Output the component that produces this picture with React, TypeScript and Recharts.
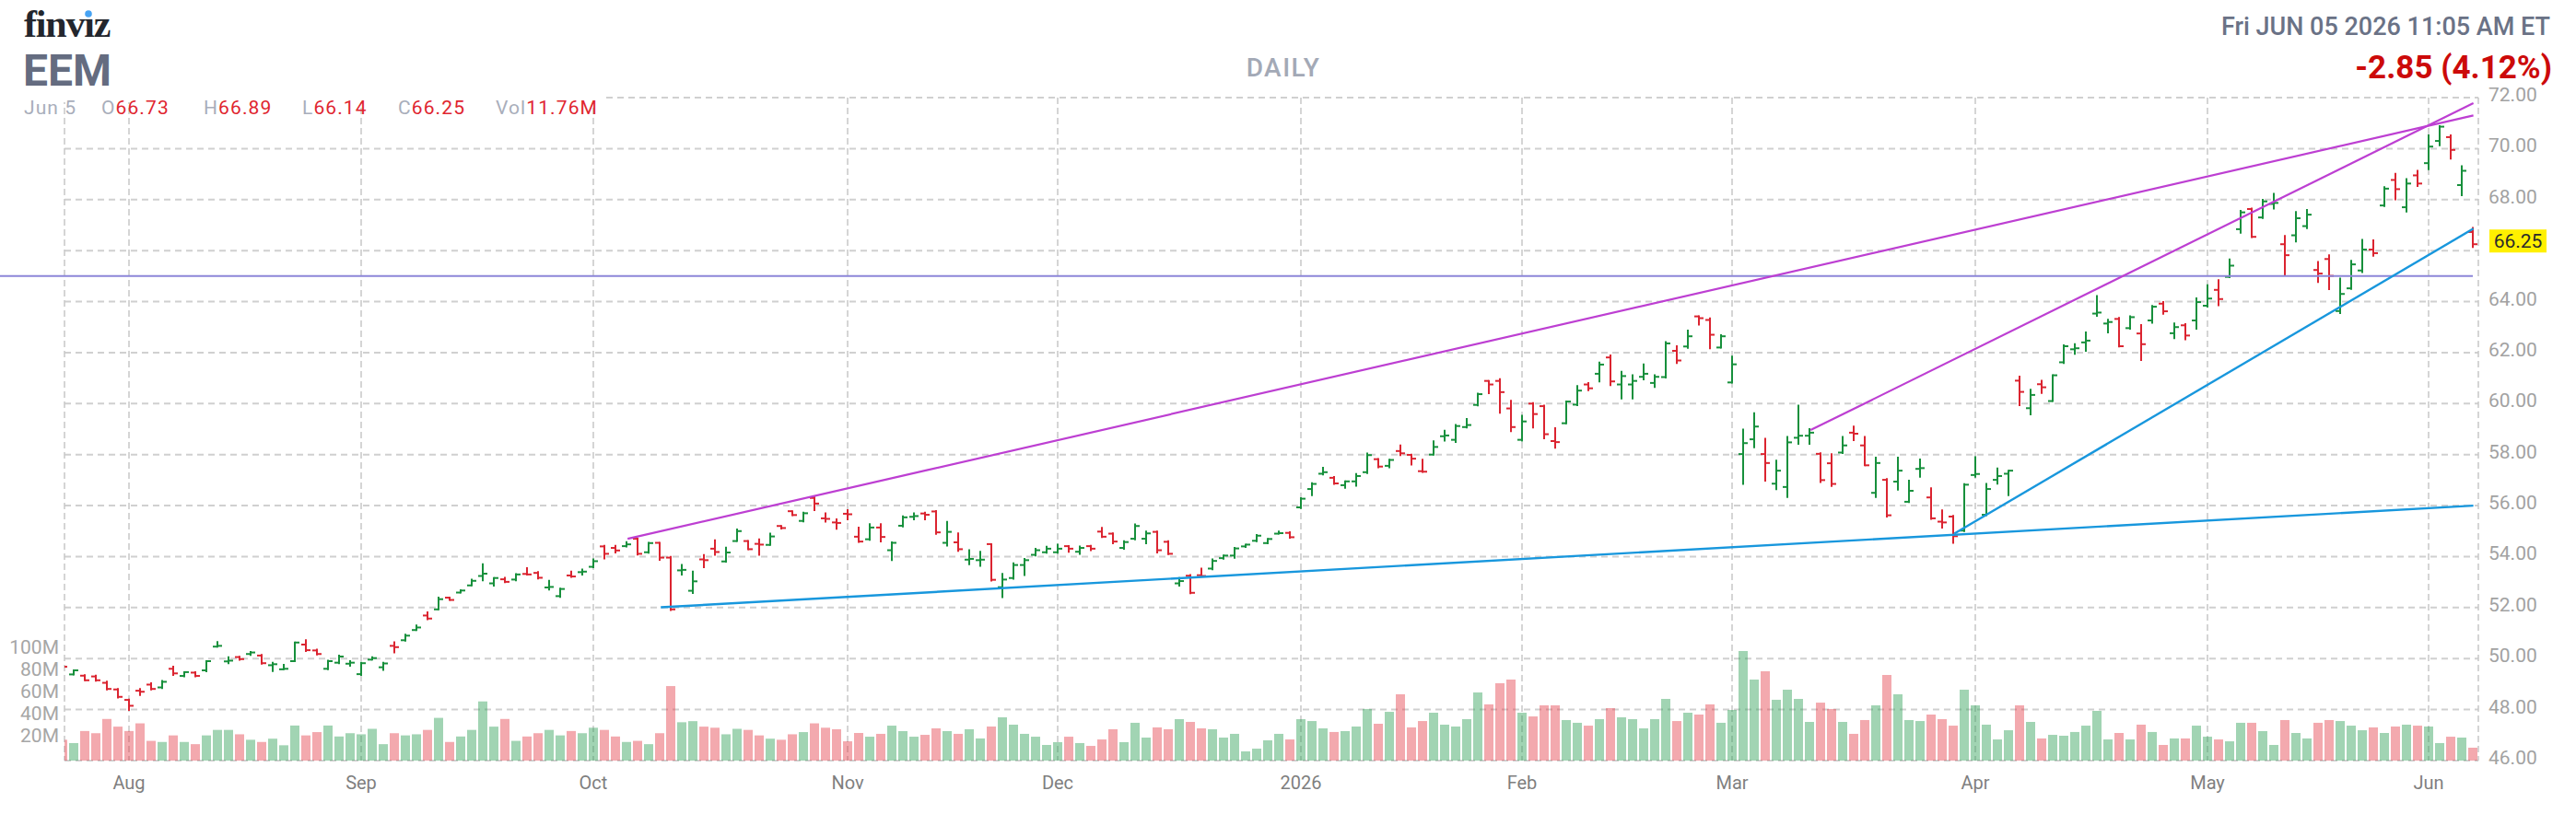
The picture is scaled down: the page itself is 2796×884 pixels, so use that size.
import React from "react";
import { ComposedChart, Bar, XAxis, YAxis, CartesianGrid, ReferenceLine, Cell } from "recharts";

// ---------- data ----------
const opens = [
  49.75, 49.38, 49.33, 49.30, 49.05, 48.79, 48.38, 48.74, 48.98, 48.87,
  49.60, 49.32, 49.45, 49.54, 50.47, 49.89, 50.06, 50.18, 50.12, 49.74,
  49.58, 49.90, 50.55, 50.32, 49.60, 49.84, 49.80, 49.39, 49.96, 49.66,
  50.50, 50.72, 51.12, 51.69, 51.93, 52.39, 52.59, 52.87, 53.24, 52.95,
  53.11, 53.10, 53.32, 53.36, 52.79, 52.45, 53.26, 53.39, 53.60, 54.40,
  54.34, 54.41, 54.70, 54.17, 54.54, 53.96, 53.46, 52.66, 53.89, 54.31,
  53.81, 54.61, 54.61, 54.50, 54.46, 55.20, 55.78, 55.40, 56.30, 55.50,
  55.34, 55.68, 54.78, 54.68, 55.14, 54.25, 55.21, 55.56, 55.69, 55.77,
  54.54, 54.56, 53.88, 53.86, 54.49, 52.80, 53.16, 53.67, 54.07, 54.17,
  54.17, 54.41, 54.19, 54.41, 54.98, 54.90, 54.34, 54.70, 54.70, 54.97,
  54.58, 52.95, 53.25, 53.27, 53.53, 53.94, 54.04, 54.40, 54.62, 54.53,
  54.90, 54.93, 55.93, 56.65, 57.25, 57.09, 56.80, 56.95, 57.31, 57.82,
  57.56, 58.14, 57.99, 57.35, 58.00, 58.72, 58.58, 59.08, 59.95, 60.89,
  60.89, 59.81, 58.58, 60.00, 59.90, 58.53, 59.23, 59.96, 60.75, 61.17,
  61.81, 60.75, 60.75, 61.05, 60.81, 61.04, 62.07, 62.24, 63.42, 63.28,
  62.20, 60.83, 58.02, 58.60, 58.02, 56.86, 56.73, 58.66, 58.74, 58.03,
  57.66, 58.08, 58.86, 58.36, 56.50, 57.01, 56.94, 56.15, 57.44, 56.32,
  55.37, 55.57, 55.02, 57.20, 55.64, 57.01, 57.25, 60.90, 59.82, 60.76,
  60.10, 61.62, 62.13, 62.40, 63.53, 63.14, 63.32, 62.96, 62.75, 63.26,
  63.92, 62.76, 63.07, 63.26, 63.84, 64.46, 64.97, 66.84, 67.63, 67.30,
  67.83, 66.25, 66.60, 66.96, 65.24, 65.67, 63.63, 64.52, 65.22, 66.04,
  67.77, 68.77, 67.70, 68.95, 69.43, 70.30, 70.45, 68.57, 66.73,
];
const highs = [
  49.80, 49.54, 49.35, 49.33, 49.10, 48.81, 48.39, 48.81, 49.03, 49.12,
  49.68, 49.47, 49.47, 49.90, 50.65, 50.05, 50.07, 50.26, 50.14, 49.84,
  49.76, 50.63, 50.72, 50.35, 49.92, 50.12, 49.90, 49.84, 50.05, 49.84,
  50.64, 50.94, 51.30, 51.81, 52.39, 52.39, 52.68, 53.10, 53.70, 53.16,
  53.17, 53.31, 53.55, 53.39, 53.05, 52.74, 53.41, 53.49, 53.89, 54.42,
  54.42, 54.57, 54.70, 54.54, 54.54, 53.99, 53.67, 53.41, 54.06, 54.64,
  54.35, 55.06, 54.61, 54.68, 54.90, 55.20, 55.78, 55.72, 56.33, 55.70,
  55.46, 55.82, 55.14, 55.27, 55.27, 54.56, 55.58, 55.70, 55.72, 55.79,
  55.36, 54.91, 54.25, 54.19, 54.49, 53.32, 53.74, 53.91, 54.31, 54.39,
  54.47, 54.41, 54.40, 54.42, 55.13, 54.91, 54.60, 55.26, 54.98, 54.98,
  54.60, 53.16, 53.28, 53.53, 53.89, 54.04, 54.34, 54.47, 54.85, 54.69,
  54.98, 54.96, 56.29, 56.88, 57.48, 57.12, 56.95, 57.24, 58.04, 57.83,
  57.80, 58.36, 58.00, 57.80, 58.52, 58.94, 59.16, 59.40, 60.39, 60.89,
  60.96, 60.11, 59.52, 60.02, 59.92, 59.04, 60.08, 60.69, 60.81, 61.61,
  61.89, 61.25, 61.11, 61.54, 61.11, 62.41, 62.25, 62.86, 63.42, 63.34,
  62.68, 61.84, 58.98, 59.62, 58.62, 57.76, 58.69, 59.92, 59.00, 58.05,
  58.02, 58.69, 59.10, 58.69, 57.88, 57.04, 57.88, 56.98, 57.81, 56.68,
  55.81, 55.60, 56.84, 57.90, 56.85, 57.46, 57.37, 61.06, 60.54, 60.90,
  61.11, 62.29, 62.33, 62.79, 64.22, 63.29, 63.36, 63.42, 63.08, 63.83,
  63.98, 63.14, 63.12, 64.13, 64.64, 64.84, 65.65, 67.56, 67.65, 67.99,
  68.23, 66.57, 67.51, 67.59, 65.55, 65.82, 64.90, 65.60, 66.42, 66.40,
  68.49, 69.01, 68.80, 69.13, 70.52, 70.88, 70.52, 69.31, 66.89,
];
const lows = [
  49.60, 49.38, 49.15, 49.13, 48.79, 48.47, 47.99, 48.57, 48.79, 48.84,
  49.36, 49.30, 49.30, 49.50, 50.47, 49.82, 49.95, 50.14, 49.80, 49.51,
  49.58, 49.90, 50.30, 50.16, 49.58, 49.82, 49.72, 49.36, 49.96, 49.56,
  50.24, 50.70, 51.12, 51.54, 51.93, 52.30, 52.59, 52.87, 53.07, 52.86,
  53.00, 53.07, 53.29, 53.14, 52.71, 52.42, 53.20, 53.29, 53.58, 53.93,
  54.16, 54.40, 54.08, 54.15, 53.87, 51.90, 53.29, 52.57, 53.58, 54.07,
  53.80, 54.61, 54.29, 54.07, 54.46, 55.10, 55.62, 55.38, 55.82, 55.37,
  55.09, 55.46, 54.58, 54.66, 54.59, 53.86, 55.18, 55.46, 55.46, 54.89,
  54.43, 54.22, 53.70, 53.64, 53.06, 52.41, 53.13, 53.28, 54.04, 54.15,
  54.15, 54.19, 54.11, 54.25, 54.77, 54.52, 54.31, 54.68, 54.52, 54.16,
  54.10, 52.86, 52.56, 53.22, 53.50, 53.92, 53.95, 54.38, 54.60, 54.52,
  54.90, 54.74, 55.90, 56.41, 57.22, 56.85, 56.70, 56.78, 57.28, 57.50,
  57.50, 57.98, 57.61, 57.32, 58.00, 58.55, 58.49, 59.06, 59.93, 60.41,
  59.64, 58.92, 58.55, 59.06, 58.64, 58.27, 59.23, 59.94, 60.53, 60.87,
  60.72, 60.20, 60.20, 60.95, 60.65, 61.02, 61.59, 62.19, 63.10, 62.17,
  62.20, 60.82, 56.85, 58.29, 56.98, 56.64, 56.34, 58.42, 58.42, 56.92,
  56.77, 58.06, 58.57, 57.58, 56.34, 55.57, 56.63, 56.14, 57.13, 55.48,
  55.14, 54.54, 55.00, 57.13, 55.62, 56.86, 56.41, 59.94, 59.58, 60.42,
  60.10, 61.59, 61.95, 62.07, 63.44, 62.79, 62.24, 62.94, 61.71, 63.17,
  63.52, 62.57, 62.52, 62.94, 63.80, 63.86, 64.96, 66.70, 66.53, 67.28,
  67.65, 65.04, 66.36, 66.88, 64.77, 64.49, 63.55, 64.50, 65.16, 65.80,
  67.75, 68.01, 67.53, 68.53, 69.19, 70.13, 69.61, 68.17, 66.14,
];
const closes = [
  49.68, 49.54, 49.15, 49.15, 48.81, 48.50, 48.15, 48.70, 48.81, 49.09,
  49.42, 49.47, 49.32, 49.90, 50.50, 49.92, 49.98, 50.24, 49.82, 49.78,
  49.60, 50.63, 50.33, 50.18, 49.90, 50.08, 49.84, 49.82, 50.02, 49.81,
  50.45, 50.90, 51.22, 51.57, 52.33, 52.30, 52.67, 53.05, 53.33, 53.16,
  53.01, 53.30, 53.30, 53.17, 52.81, 52.73, 53.22, 53.41, 53.82, 54.11,
  54.24, 54.48, 54.11, 54.53, 53.96, 51.93, 53.48, 53.03, 53.86, 54.18,
  54.16, 55.00, 54.29, 54.47, 54.79, 55.12, 55.63, 55.70, 56.08, 55.48,
  55.32, 55.66, 54.59, 55.14, 54.77, 54.54, 55.54, 55.59, 55.64, 54.95,
  54.97, 54.29, 53.91, 53.88, 53.09, 53.10, 53.67, 53.86, 54.25, 54.31,
  54.31, 54.31, 54.34, 54.31, 54.78, 54.59, 54.57, 55.20, 54.91, 54.25,
  54.11, 53.04, 52.58, 53.24, 53.83, 54.04, 54.32, 54.47, 54.82, 54.69,
  54.92, 54.76, 56.27, 56.85, 57.31, 56.87, 56.95, 57.16, 57.98, 57.53,
  57.79, 58.05, 57.84, 57.33, 58.30, 58.75, 59.12, 59.16, 60.37, 60.75,
  60.45, 59.08, 59.30, 59.59, 58.80, 58.49, 60.08, 60.51, 60.60, 61.53,
  60.87, 61.08, 60.89, 61.17, 61.05, 62.36, 61.69, 62.64, 63.35, 62.70,
  62.64, 61.54, 58.45, 59.10, 57.67, 57.37, 58.48, 58.74, 58.86, 57.00,
  56.85, 58.36, 58.82, 57.58, 57.67, 55.62, 57.37, 56.58, 57.47, 55.50,
  55.34, 54.80, 56.82, 57.24, 56.65, 57.16, 57.37, 60.46, 60.34, 60.64,
  61.11, 62.25, 62.17, 62.47, 63.57, 63.20, 62.25, 63.39, 62.33, 63.80,
  63.62, 63.00, 62.67, 63.98, 64.12, 64.10, 65.41, 67.50, 66.54, 67.93,
  67.87, 65.82, 67.27, 67.41, 65.10, 65.01, 64.30, 65.46, 66.04, 65.90,
  68.43, 68.41, 68.63, 68.63, 70.08, 70.86, 69.95, 69.13, 66.25,
];
// volume, millions of shares
const volumes = [
  19, 16, 27, 25, 38, 31, 27, 34, 18, 17,
  23, 17, 15, 23, 28, 28, 24, 19, 17, 20,
  14, 32, 23, 26, 32, 22, 25, 24, 29, 15,
  25, 23, 24, 28, 39, 17, 22, 28, 54, 31,
  38, 18, 22, 25, 28, 23, 27, 25, 30, 28,
  22, 17, 18, 15, 25, 68, 35, 36, 31, 30,
  24, 29, 28, 23, 20, 19, 24, 26, 34, 30,
  28.6, 17.6, 25.2, 21.8, 24.4, 31.9, 26.9, 21.8, 23.5, 29.4,
  26.9, 24.4, 28.6, 20.2, 31.1, 39.5, 32.8, 24.4, 21.8, 14.3,
  16.8, 21.8, 16.0, 13.4, 19.3, 28.6, 16.8, 34.5, 21.0, 30.3,
  28.6, 37.8, 35.3, 29.4, 28.6, 21.0, 24.4, 8.4, 10.9, 18.5,
  24.4, 19.3, 37.8, 36.1, 29.4, 26.1, 26.9, 31.1, 47.1, 33.6,
  44.5, 60.5, 30.3, 36.1, 43.7, 32.8, 31.1, 37.8, 62.2, 51.3,
  70.6, 73.9, 43.7, 40.3, 50.4, 50.4, 37.0, 34.5, 31.9, 37.8,
  47.9, 39.5, 37.8, 29.4, 37.8, 56.3, 36.1, 43.7, 42.0, 51.3,
  34.5, 46.2, 100, 73.9, 81.5, 55.5, 64.7, 56.3, 35.3, 52.9,
  47.1, 35.3, 24.4, 37.0, 50.4, 78.2, 60.5, 37.0, 36.1, 42.0,
  37.8, 31.9, 64.7, 50.4, 32.8, 19.3, 27.7, 50.4, 35.3, 20.2,
  23.5, 22.7, 26.1, 31.9, 45.4, 19.3, 25.2, 19.3, 32.8, 26.1,
  14.3, 20.2, 20.2, 31.9, 21.8, 19.3, 17.6, 34.5, 34.5, 26.9,
  14.3, 37.0, 25.2, 20.2, 34.5, 37.0, 36.1, 31.9, 27.7, 30.3,
  25.2, 31.1, 32.8, 31.9, 31.1, 16.0, 21.8, 21.0, 11.76,
];

// month gridlines: bar index of first trading day, and labels
const monthTicks = [6, 27, 48, 71, 90, 112, 132, 151, 173, 194, 214];
const monthLabels = ["Aug", "Sep", "Oct", "Nov", "Dec", "2026", "Feb", "Mar", "Apr", "May", "Jun"];
const priceTicks = [46, 48, 50, 52, 54, 56, 58, 60, 62, 64, 66, 68, 70, 72];
const volumeTicks = [20, 40, 60, 80, 100];

// drawn trendlines: [startIndex, startPrice, endIndex, endPrice]
const purpleLines = [
  [51.1, 54.7, 218.05, 71.3],
  [158.1, 58.96, 218.05, 71.78],
];
const blueLines = [
  [54.1, 52.01, 218.05, 56.0],
  [171.1, 54.9, 218.05, 66.86],
];
const levelLine = [-5.67, 65.0, 218.0, 65.0];

const lastQuote = { date: "Jun 5", o: "66.73", h: "66.89", l: "66.14", c: "66.25", vol: "11.76M" };

// ---------- styling ----------
const W = 2796;
const H = 884;
const FONT = "Roboto, 'Noto Sans', sans-serif";
const GREEN = "#17903c";
const RED = "#db2430";
const PURPLE = "#bd3fd2";
const BLUE = "#1897dd";
const LEVEL = "#8c86d8";

const rows = opens.map((o, i) => ({
  i,
  o,
  h: highs[i],
  l: lows[i],
  c: closes[i],
  v: volumes[i],
  range: [lows[i], highs[i]],
  up: closes[i] >= o,
}));

const OhlcShape = (props: any) => {
  const { x, y, width, height, payload } = props;
  if (x == null || y == null || !payload) return null;
  const cx = x + width / 2;
  const top = Math.min(y, y + height);
  const bot = Math.max(y, y + height);
  const span = payload.h - payload.l;
  const py = (p: number) => (span > 0 ? top + ((payload.h - p) / span) * (bot - top) : top);
  const color = payload.up ? GREEN : RED;
  return (
    <g stroke={color} strokeWidth={2} fill="none">
      <line x1={cx} x2={cx} y1={top - 1} y2={Math.max(bot, top + 1) + 1} />
      <line x1={cx - 5} x2={cx} y1={py(payload.o)} y2={py(payload.o)} />
      <line x1={cx} x2={cx + 5} y1={py(payload.c)} y2={py(payload.c)} />
    </g>
  );
};

const XTick = (props: any) => {
  const { x, y, payload } = props;
  const k = monthTicks.indexOf(payload.value);
  if (k < 0) return null;
  return (
    <text x={x} y={y + 31} textAnchor="middle" fill="#7f7f7f" fontSize={20} fontFamily={FONT}>
      {monthLabels[k]}
    </text>
  );
};

const PriceTick = (props: any) => {
  const { x, y, payload } = props;
  if (payload.value === 66) return null;
  return (
    <text x={x + 11} y={y - 3} dominantBaseline="central" textAnchor="start" fill="#a2a2a2" fontSize={21} fontFamily={FONT}>
      {Number(payload.value).toFixed(2)}
    </text>
  );
};

const VolTick = (props: any) => {
  const { x, y, payload } = props;
  return (
    <text x={x - 6} y={y - 3.5} dominantBaseline="central" textAnchor="end" fill="#a6a6a6" fontSize={21} fontFamily={FONT}>
      {payload.value}M
    </text>
  );
};

const LastLabel = (props: any) => {
  const vb = props.viewBox || {};
  const left = vb.x + vb.width + 12;
  const cy = vb.y - 3.5;
  return (
    <g>
      <rect x={left} y={cy - 12.5} width={62} height={25} fill="#fff000" />
      <text x={left + 31} y={cy} dominantBaseline="central" textAnchor="middle" fill="#2b2b2b" fontSize={21} fontFamily={FONT}>
        {lastQuote.c}
      </text>
    </g>
  );
};

const seg = (l: number[]) => [
  { x: l[0], y: l[1] },
  { x: l[2], y: l[3] },
];

export default function App() {
  return (
    <div style={{ position: "absolute", left: 0, top: 0, width: W, height: H, background: "#fff" }}>
      <ComposedChart width={W} height={H} data={rows} margin={{ top: 106, right: 0, bottom: 0, left: 0 }}>
        <XAxis
          xAxisId="x"
          dataKey="i"
          type="number"
          domain={[1 / 6, 218.5]}
          allowDataOverflow
          ticks={monthTicks}
          interval={0}
          height={58}
          axisLine={false}
          tickLine={false}
          tickSize={0}
          tickMargin={0}
          tick={<XTick />}
        />
        <XAxis xAxisId="xv" dataKey="i" type="number" domain={[1 / 6, 218.5]} allowDataOverflow hide />
        <YAxis
          yAxisId="vol"
          orientation="left"
          width={70}
          domain={[0, 605]}
          allowDataOverflow
          ticks={volumeTicks}
          interval={0}
          axisLine={false}
          tickLine={false}
          tickSize={0}
          tickMargin={0}
          tick={<VolTick />}
        />
        <YAxis
          yAxisId="price"
          orientation="right"
          width={106}
          domain={[46, 72]}
          allowDataOverflow
          ticks={priceTicks}
          interval={0}
          axisLine={false}
          tickLine={false}
          tickSize={0}
          tickMargin={0}
          tick={<PriceTick />}
        />
        <CartesianGrid xAxisId="x" yAxisId="price" vertical={false} stroke="#d0d0d0" strokeDasharray="7 5" strokeWidth={2} />
        <CartesianGrid xAxisId="x" yAxisId="price" horizontal={false} stroke="#c8c8c8" strokeDasharray="7 4" strokeWidth={1.5} />
        <Bar xAxisId="xv" yAxisId="vol" dataKey="v" barSize={10} isAnimationActive={false}>
          {rows.map((r) => (
            <Cell key={r.i} fill={r.up ? "#2a9c53" : "#e2333e"} fillOpacity={r.up ? 0.44 : 0.42} />
          ))}
        </Bar>
        <ReferenceLine xAxisId="x" yAxisId="price" segment={seg(levelLine)} stroke={LEVEL} strokeWidth={2} ifOverflow="visible" />
        {purpleLines.map((l, k) => (
          <ReferenceLine key={"p" + k} xAxisId="x" yAxisId="price" segment={seg(l)} stroke={PURPLE} strokeWidth={2.2} ifOverflow="visible" />
        ))}
        {blueLines.map((l, k) => (
          <ReferenceLine key={"b" + k} xAxisId="x" yAxisId="price" segment={seg(l)} stroke={BLUE} strokeWidth={2.4} ifOverflow="visible" />
        ))}
        <Bar
          xAxisId="x"
          yAxisId="price"
          dataKey="range"
          barSize={10}
          isAnimationActive={false}
          shape={(p: any) => <OhlcShape {...p} />}
        />
        <ReferenceLine xAxisId="x" yAxisId="price" y={66.25} stroke="none" label={(p: any) => <LastLabel {...p} />} />
      </ComposedChart>
      <svg width={W} height={H} style={{ position: "absolute", left: 0, top: 0, pointerEvents: "none" }}>
        <rect x={0} y={99} width={655} height={12} fill="#fff" />
        <text x={26} y={40} fontFamily="'Liberation Serif', 'DejaVu Serif', serif" fontWeight={700} fontSize={42} fill="#23262d" letterSpacing={-1.2}>
          finv{"\u0131"}z
        </text>
        <circle cx={96} cy={15} r={3.8} fill="#47a3f3" />
        <text x={25} y={93} fontFamily={FONT} fontWeight={700} fontSize={48} fill="#646c80">
          EEM
        </text>
        <g fontFamily={FONT} fontSize={21} letterSpacing={1.1}>
          <text x={26} y={124} fill="#a9aebb">{lastQuote.date}</text>
          <text x={110} y={124}><tspan fill="#a9aebb">O</tspan><tspan fill="#e0252f">{lastQuote.o}</tspan></text>
          <text x={221} y={124}><tspan fill="#a9aebb">H</tspan><tspan fill="#e0252f">{lastQuote.h}</tspan></text>
          <text x={328} y={124}><tspan fill="#a9aebb">L</tspan><tspan fill="#e0252f">{lastQuote.l}</tspan></text>
          <text x={432} y={124}><tspan fill="#a9aebb">C</tspan><tspan fill="#e0252f">{lastQuote.c}</tspan></text>
          <text x={538} y={124}><tspan fill="#a9aebb">Vol</tspan><tspan fill="#e0252f">{lastQuote.vol}</tspan></text>
        </g>
        <text x={1393} y={83} textAnchor="middle" fontFamily={FONT} fontWeight={500} fontSize={28} letterSpacing={1.5} fill="#a3a9b6">
          DAILY
        </text>
        <text x={2768} y={38} textAnchor="end" fontFamily={FONT} fontWeight={500} fontSize={27} fill="#6a7286">
          Fri JUN 05 2026 11:05 AM ET
        </text>
        <text x={2770} y={85} textAnchor="end" fontFamily={FONT} fontWeight={700} fontSize={35} fill="#cc0a0a">
          -2.85 (4.12%)
        </text>
      </svg>
    </div>
  );
}
